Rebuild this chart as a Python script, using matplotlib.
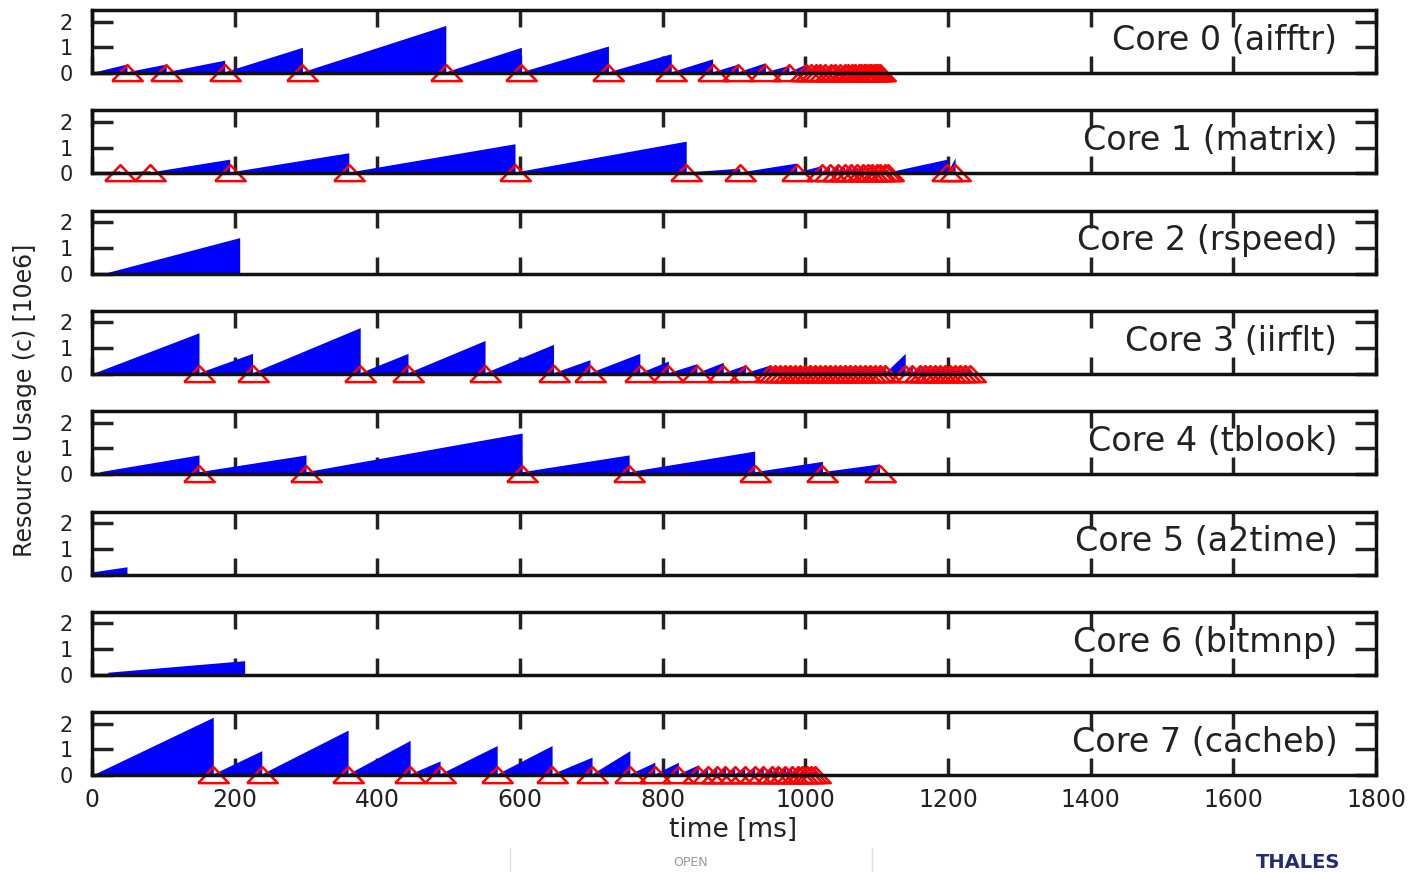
import numpy as np
import matplotlib
matplotlib.use("Agg")
import matplotlib.pyplot as plt

# core labels
core_names = ["Core 0 (aifftr)", "Core 1 (matrix)", "Core 2 (rspeed)", "Core 3 (iirflt)",
              "Core 4 (tblook)", "Core 5 (a2time)", "Core 6 (bitmnp)", "Core 7 (cacheb)"]

# first sample of each core [ms] and value right after a reset [10e6]
start_ms = [4, 22, 22, 4, 11, 0, 22, 4]
base_val = [0.05, 0.05, 0.05, 0.05, 0.1, 0.1, 0.1, 0.05]

# reset times [ms] and the usage just before each reset
drops0 = [49, 104, 186, 295, 496, 602, 724, 812, 870, 906, 944, 977, 1001, 1008, 1015, 1021,
          1028, 1036, 1042, 1049, 1055, 1060, 1066, 1070, 1075, 1078, 1082, 1085, 1089, 1092,
          1096, 1099, 1102, 1105]
peaks0 = [0.35, 0.35, 0.5, 1.0, 1.85, 1.0, 1.05, 0.75, 0.55, 0.35, 0.4, 0.3, 0.35, 0.25, 0.3,
          0.3, 0.25, 0.3, 0.25, 0.25, 0.25, 0.25, 0.2, 0.2, 0.2, 0.2, 0.2, 0.2, 0.2, 0.2,
          0.2, 0.15, 0.15, 0.15]
drops1 = [39, 81, 193, 360, 593, 833, 908, 988, 1023, 1034, 1046, 1055, 1064, 1073, 1081,
          1088, 1094, 1100, 1105, 1111, 1116, 1199, 1210]
peaks1 = [0.1, 0.1, 0.55, 0.8, 1.15, 1.25, 0.2, 0.4, 0.3, 0.25, 0.3, 0.25, 0.3, 0.25, 0.3,
          0.25, 0.3, 0.25, 0.25, 0.2, 0.2, 0.55, 0.6]
drops2 = [207]
peaks2 = [1.4]
drops3 = [150, 225, 376, 443, 551, 647, 698, 768, 808, 848, 885, 916, 951, 958, 965, 972,
          979, 986, 993, 1000, 1007, 1014, 1021, 1028, 1035, 1042, 1049, 1056, 1063, 1070,
          1077, 1084, 1091, 1098, 1105, 1112, 1140, 1150, 1161, 1168, 1175, 1182, 1189, 1196,
          1203, 1210, 1217, 1224, 1231]
peaks3 = [1.6, 0.8, 1.8, 0.8, 1.3, 1.15, 0.55, 0.8, 0.5, 0.4, 0.45, 0.35, 0.35, 0.3, 0.3,
          0.3, 0.3, 0.3, 0.3, 0.3, 0.3, 0.3, 0.3, 0.3, 0.3, 0.3, 0.3, 0.3, 0.3, 0.3, 0.3,
          0.3, 0.3, 0.3, 0.3, 0.3, 0.8, 0.3, 0.35, 0.3, 0.3, 0.3, 0.3, 0.3, 0.3, 0.3, 0.3,
          0.3, 0.25]
drops4 = [150, 300, 603, 753, 929, 1024, 1104]
peaks4 = [0.75, 0.75, 1.6, 0.75, 0.9, 0.5, 0.4]
drops5 = [49]
peaks5 = [0.3]
drops6 = [214]
peaks6 = [0.55]
drops7 = [170, 238, 359, 446, 488, 568, 645, 701, 754, 789, 822, 850, 863, 876, 888, 901,
          915, 929, 941, 953, 962, 972, 981, 990, 996, 1002, 1008, 1014]
peaks7 = [2.25, 0.95, 1.75, 1.35, 0.55, 1.15, 1.15, 0.7, 0.95, 0.5, 0.5, 0.4, 0.35, 0.35,
          0.35, 0.35, 0.35, 0.35, 0.3, 0.35, 0.3, 0.3, 0.3, 0.3, 0.25, 0.3, 0.25, 0.25]

all_drops = [drops0, drops1, drops2, drops3, drops4, drops5, drops6, drops7]
all_peaks = [peaks0, peaks1, peaks2, peaks3, peaks4, peaks5, peaks6, peaks7]
has_markers = [True, True, False, True, True, False, False, True]

x_ticks = [0, 200, 400, 600, 800, 1000, 1200, 1400, 1600, 1800]
y_ticks = [0, 1, 2]

plt.rcParams['font.family'] = 'DejaVu Sans'
fig = plt.figure(figsize=(14.12, 8.72), dpi=100)
W, H = 1412.0, 872.0

tri = [(-1, -0.5), (1, -0.5), (0, 0.55), (-1, -0.5)]

for i in range(8):
    top = 10 + i * 100.3
    ax = fig.add_axes([92 / W, 1 - (top + 63) / H, 1284 / W, 63 / H])
    xs = [start_ms[i]]
    ys = [base_val[i]]
    for d, p in zip(all_drops[i], all_peaks[i]):
        xs += [d, d]
        ys += [p, base_val[i] if d != all_drops[i][-1] else 0]
    ax.fill_between(xs, 0, ys, color='#0000ff', linewidth=0, zorder=2)
    if has_markers[i]:
        ax.plot(all_drops[i], np.zeros(len(all_drops[i])), linestyle='none', marker=tri,
                markersize=22, markerfacecolor='none', markeredgecolor='red',
                markeredgewidth=1.8, clip_on=False, zorder=4)
    ax.set_xlim(0, 1800)
    ax.set_ylim(0, 2.45)
    ax.set_xticks(x_ticks)
    ax.set_yticks(y_ticks)
    ax.tick_params(axis='x', direction='in', length=12, width=2.5, top=True, bottom=True,
                   labelsize=17, pad=9, color='#222222', labelcolor='#222222')
    ax.tick_params(axis='y', direction='in', length=15, width=2.5, left=True, right=True,
                   labelsize=15, pad=14, color='#222222', labelcolor='#222222')
    if i < 7:
        ax.set_xticklabels([])
    for s in ax.spines.values():
        s.set_linewidth(2.5)
        s.set_color('#111111')
        s.set_zorder(5)
    ax.text(0.97, 0.52, core_names[i], transform=ax.transAxes, ha='right', va='center',
            fontsize=24, color='#222222')

fig.text(25 / W, 1 - 400 / H, "Resource Usage (c) [10e6]", rotation=90, ha='center',
         va='center', fontsize=17, color='#222222')
fig.text(733 / W, 1 - 830 / H, "time [ms]", ha='center', va='center', fontsize=19,
         color='#222222')

# footer bits of the slide
fig.text(691 / W, 1 - 862 / H, "OPEN", ha='center', va='center', fontsize=9, color='#999999')
fig.add_artist(plt.Line2D([510 / W, 510 / W], [0, 1 - 848 / H], color='#dddddd', lw=1))
fig.add_artist(plt.Line2D([872 / W, 872 / W], [0, 1 - 848 / H], color='#dddddd', lw=1))
fig.text(1256 / W, 1 - 853 / H, "THALES", ha='left', va='top', fontsize=14,
         fontweight='bold', color='#242a75')

fig.savefig("out.png", dpi=100)
